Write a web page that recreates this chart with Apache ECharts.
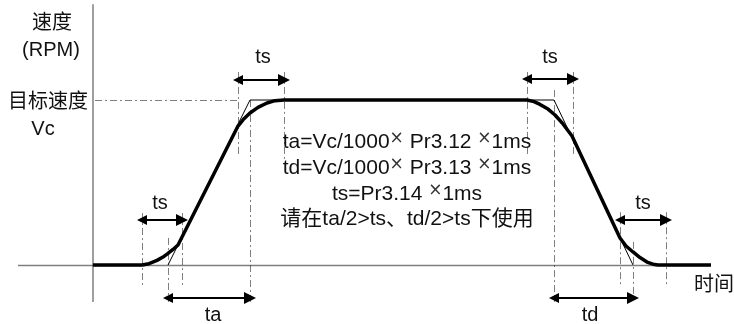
<!DOCTYPE html>
<html>
<head>
<meta charset="utf-8">
<script src="https://cdn.jsdelivr.net/npm/echarts@6/dist/echarts.min.js"></script>
<style>
  html, body { margin: 0; padding: 0; background: #fff; }
  #main { width: 734px; height: 324px; }
</style>
</head>
<body>
<div id="main"></div>
<script>
// 时间 (t) / 速度 (v, Vc = 100)
var speedT = [0, 49, 56, 64, 70, 75, 80, 85, 145, 150, 157, 165, 174, 182, 191, 434, 441, 447, 455, 462, 470, 479, 527, 533, 540, 547, 554, 560, 565, 618];
var speedV = [0, 0, 0.8, 2.8, 4.8, 7, 9.4, 12.1, 84.2, 88, 92.1, 95.5, 98.2, 99.6, 100, 100, 99, 97.3, 94.5, 90.9, 85.5, 78.2, 16.4, 11.5, 7.9, 4.5, 1.8, 0.5, 0, 0];

// 无S曲线的梯形加减速
var idealT = [75, 157, 461, 540];
var idealV = [0, 100, 100, 0];

// 辅助虚线 [t, v起, v止]
var guides = [
    [49, 31.5, -13.3], [89, 31.5, -13.3], [75, 16.4, -22.4], [157, 100, -22.4],
    [145, 117, 66.7], [191, 117, 63.6], [434, 117, 65.5], [480, 117, 65.5],
    [461, 106, -22.4], [527, 32, -13.3], [540, 14, -22.4], [573, 32, -13.3]
];
// 目标速度 Vc 水平点划线 [t起, t止, v]
var vcLine = [2, 145, 100];

// 双箭头 [t起, t止, v]
var arrows = [
    [49, 89, 27.3], [145, 191, 112.1], [434, 480, 112.7],
    [527, 573, 27.3], [75, 157, -20], [461, 540, -20]
];
var arrowNames = ['ts', 'ts', 'ts', 'ts', 'ta', 'td'];

// 坐标轴
var axisV = [0, -22.4, 158];   // t, v起, v止
var axisH = [-75, 618, 0];     // t起, t止, v

var formulaLines = [
    'ta=Vc/1000{x|×} Pr3.12 {x|×}1ms',
    'td=Vc/1000{x|×} Pr3.13 {x|×}1ms',
    'ts=Pr3.14 {x|×}1ms',
    '请在ta/2>ts、td/2>ts下使用'
];

var FONT = '"Liberation Sans", Arial, "Noto Sans CJK SC", sans-serif';

function pairs(xs, ys) {
    return xs.map(function (x, i) { return [x, ys[i]]; });
}

var chart = echarts.init(document.getElementById('main'));

var dashDot = { type: [7, 3, 2, 3], width: 1, color: '#000' };

var guideData = guides.map(function (g) {
    return { coords: [[g[0], g[1]], [g[0], g[2]]] };
});
guideData.push({ coords: [[vcLine[0], vcLine[2]], [vcLine[1], vcLine[2]]] });

var arrowData = arrows.map(function (a) {
    return { coords: [[a[0], a[2]], [a[1], a[2]]] };
});

function txt(text, x, y, size) {
    return {
        type: 'text',
        x: x, y: y,
        silent: true,
        style: {
            text: text,
            align: 'center',
            verticalAlign: 'middle',
            fontSize: size || 20,
            fontFamily: FONT,
            fill: '#111',
            rich: {
                x: { fontSize: 17, fontFamily: '"DejaVu Sans", sans-serif', fill: '#333',
                     verticalAlign: 'middle', padding: [0, 0, 7, 0] }
            }
        }
    };
}

var labelPos = [[160, 203], [263, 57], [550, 57], [643, 203], [213, 315], [590, 315]];

var graphics = [
    txt('速度', 52, 23),
    txt('(RPM)', 51, 50),
    txt('目标速度', 48, 102),
    txt('Vc', 43, 129),
    txt('时间', 714, 285)
];
arrowNames.forEach(function (n, i) {
    graphics.push(txt(n, labelPos[i][0], labelPos[i][1]));
});
var formulaY = [142, 168, 194, 219];
formulaLines.forEach(function (s, i) {
    graphics.push(txt(s, 407, formulaY[i], 21));
});

chart.setOption({
    animation: false,
    grid: { left: 93, top: 100, width: 620, height: 165 },
    xAxis: { type: 'value', min: 0, max: 620, show: false },
    yAxis: { type: 'value', min: 0, max: 100, show: false },
    graphic: graphics,
    series: [
        {
            // 坐标轴线
            type: 'lines',
            coordinateSystem: 'cartesian2d',
            clip: false,
            silent: true,
            lineStyle: { color: '#000', width: 1.3 },
            data: [
                { coords: [[axisV[0], axisV[1]], [axisV[0], axisV[2]]], lineStyle: { width: 1.5 } },
                { coords: [[axisH[0], axisH[2]], [axisH[1], axisH[2]]] }
            ],
            z: 1
        },
        {
            type: 'lines',
            coordinateSystem: 'cartesian2d',
            clip: false,
            silent: true,
            lineStyle: dashDot,
            data: guideData,
            z: 2
        },
        {
            type: 'line',
            data: pairs(idealT, idealV),
            showSymbol: false,
            clip: false,
            silent: true,
            lineStyle: { color: '#000', width: 1 },
            z: 3
        },
        {
            type: 'line',
            data: pairs(speedT, speedV),
            showSymbol: false,
            clip: false,
            silent: true,
            lineStyle: { color: '#000', width: 3.5 },
            z: 4
        },
        {
            type: 'lines',
            coordinateSystem: 'cartesian2d',
            clip: false,
            silent: true,
            symbol: ['triangle', 'triangle'],
            symbolSize: [10, 12],
            symbolOffset: [0, 6],
            lineStyle: { color: '#000', width: 2, opacity: 1 },
            itemStyle: { color: '#000' },
            data: arrowData,
            z: 5
        }
    ]
});
</script>
</body>
</html>
